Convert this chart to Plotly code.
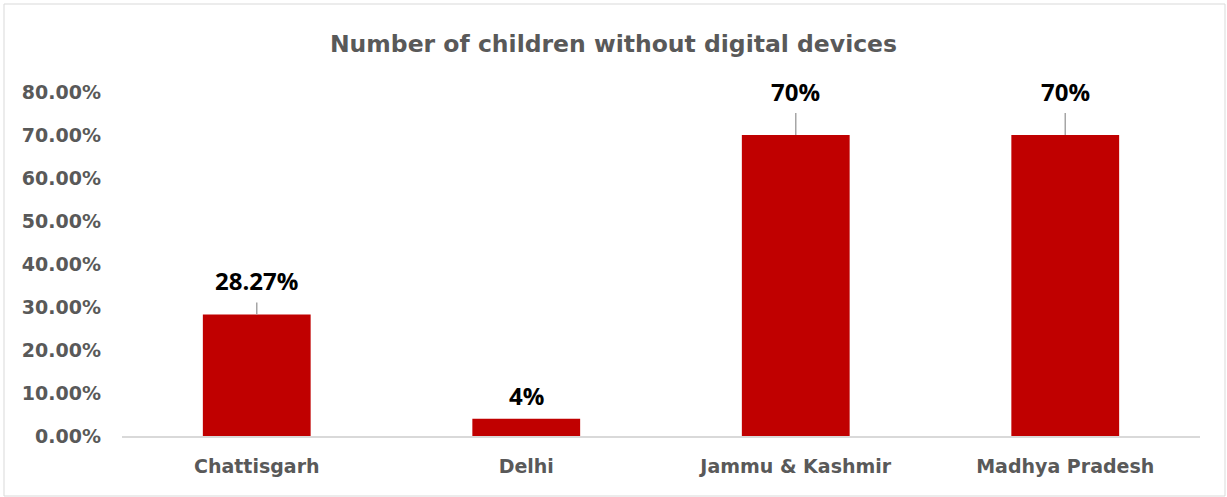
import plotly.graph_objects as go

# ---- data ----
categories = ["Chattisgarh", "Delhi", "Jammu & Kashmir", "Madhya Pradesh"]
values = [0.2827, 0.04, 0.70, 0.70]
value_labels = ["28.27%", "4%", "70%", "70%"]
y_tick_values = [0, 0.1, 0.2, 0.3, 0.4, 0.5, 0.6, 0.7, 0.8]
title_text = "Number of children without digital devices"

# ---- styling ----
W, H = 1227, 497
ML, MR, MT, MB = 122, 27, 92, 61
GRAY = "#595959"
BAR = "#C00000"
AX_FONT = "DejaVu Sans"
label_offsets = {"Chattisgarh": -34, "Delhi": -23, "Jammu & Kashmir": -44, "Madhya Pradesh": -44}
leader = {"Chattisgarh": True, "Delhi": False, "Jammu & Kashmir": True, "Madhya Pradesh": True}

fig = go.Figure()
fig.add_trace(go.Bar(x=categories, y=values, marker=dict(color=BAR, line=dict(width=0)),
                     hoverinfo="skip"))

for c, v, t in zip(categories, values, value_labels):
    if leader[c]:
        fig.add_annotation(x=c, y=v, text=t, showarrow=True, arrowhead=0, arrowwidth=1.5,
                           arrowcolor="#A6A6A6", ax=0, ay=label_offsets[c], borderpad=5,
                           font=dict(family="Open Sans", size=24, color="#000000", weight="bold"))
    else:
        fig.add_annotation(x=c, y=v, text=t, showarrow=False, yanchor="middle",
                           yshift=-label_offsets[c],
                           font=dict(family="Open Sans", size=24, color="#000000", weight="bold"))

pw, ph = W - ML - MR, H - MT - MB
fig.add_shape(type="rect", xref="paper", yref="paper",
              x0=(4 - ML) / pw, x1=(1225 - ML) / pw,
              y0=-(496 - MT - ph) / ph, y1=1 + (MT - 4) / ph,
              line=dict(color="#D9D9D9", width=1), fillcolor="rgba(0,0,0,0)", layer="below")

fig.update_layout(
    width=W, height=H,
    margin=dict(l=ML, r=MR, t=MT, b=MB),
    paper_bgcolor="white", plot_bgcolor="white",
    bargap=0.6,
    showlegend=False,
    title=dict(text=title_text, x=0.5, xanchor="center", xref="container",
               y=1 - 44 / H, yanchor="middle", yref="container",
               font=dict(family=AX_FONT, size=23.5, color=GRAY, weight="bold")),
    xaxis=dict(showgrid=False, showline=True, linecolor="#D9D9D9", linewidth=1.5,
               ticks="", ticklabelstandoff=12,
               tickfont=dict(family=AX_FONT, size=19, color=GRAY, weight="bold")),
    yaxis=dict(range=[0, 0.8], tickvals=y_tick_values, tickformat=".2%",
               showgrid=False, zeroline=False, showline=False, ticks="",
               ticklabelstandoff=20,
               tickfont=dict(family=AX_FONT, size=19, color=GRAY, weight="bold")),
)

fig.write_html("out.html")
